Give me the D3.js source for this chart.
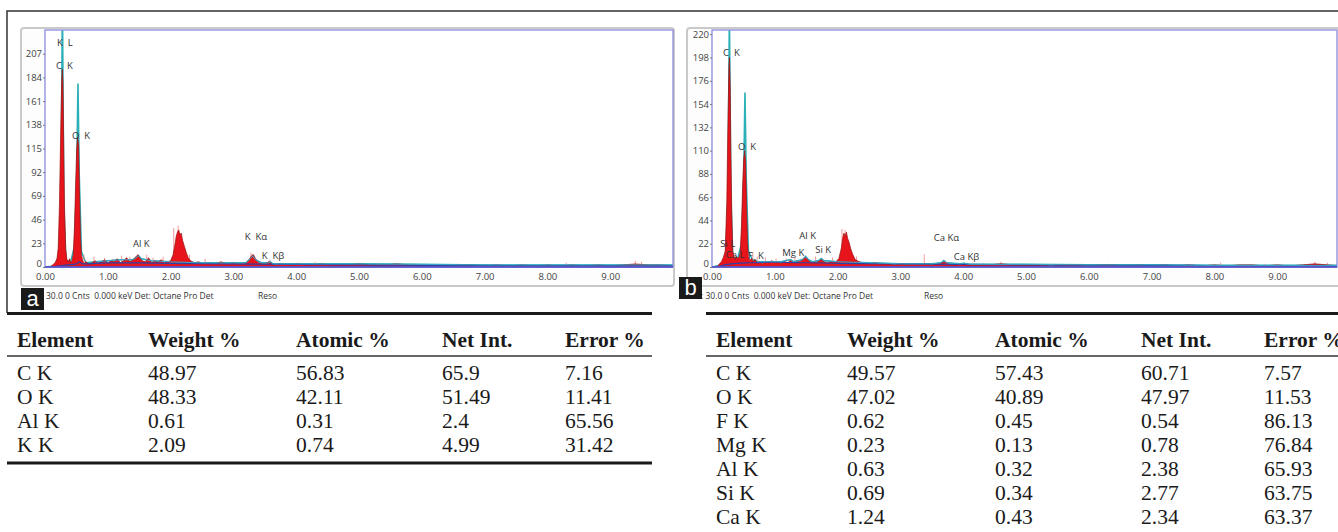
<!DOCTYPE html>
<html>
<head>
<meta charset="utf-8">
<script src="https://cdn.jsdelivr.net/npm/d3@7"></script>
<style>
  body { margin: 0; background: #fff; }
  svg { display: block; }
</style>
</head>
<body>
<div id="chart"></div>
<script>
// ---- data ----
const keVTicks = [0, 1, 2, 3, 4, 5, 6, 7, 8, 9];
const countTicksA = [0, 23, 46, 69, 92, 115, 138, 161, 184, 207];
const countTicksB = [0, 22, 44, 66, 88, 110, 132, 154, 176, 198, 220];

// measured spectrum (keV, counts)
const spectrumA = [[0,0],[0.08,0],[0.12,2],[0.16,4],[0.19,8],[0.21,18],[0.23,60],[0.25,130],[0.265,178],[0.275,192],[0.285,180],[0.30,110],[0.31,60],[0.33,18],[0.35,7],[0.37,5],[0.39,8],[0.41,4],[0.43,6],[0.45,12],[0.47,40],[0.49,85],[0.505,115],[0.52,126],[0.535,118],[0.55,70],[0.565,30],[0.58,12],[0.60,6],[0.62,3],[0.65,5],[0.70,3],[0.75,4],[0.80,6],[0.85,4],[0.90,5],[0.95,7],[1.00,4],[1.05,6],[1.10,5],[1.15,8],[1.20,4],[1.25,6],[1.30,9],[1.35,5],[1.40,7],[1.45,10],[1.48,12],[1.51,9],[1.55,6],[1.60,5],[1.65,9],[1.70,4],[1.75,6],[1.80,5],[1.85,7],[1.90,4],[1.95,5],[2.00,6],[2.04,12],[2.07,22],[2.09,30],[2.11,34],[2.13,36],[2.15,31],[2.17,33],[2.19,26],[2.22,20],[2.25,14],[2.28,9],[2.32,6],[2.38,4],[2.45,5],[2.50,3],[2.60,4],[2.70,3],[2.80,5],[2.90,3],[3.00,4],[3.10,3],[3.20,4],[3.25,7],[3.29,11],[3.32,12],[3.35,8],[3.40,4],[3.50,3],[3.56,5],[3.60,4],[3.65,2],[3.75,3],[3.90,2],[4.00,3],[4.2,2],[4.4,3],[4.6,2],[4.8,2],[5.0,3],[5.2,2],[5.4,2],[5.6,3],[5.8,2],[6.0,2],[6.2,2],[6.4,1],[6.6,2],[6.8,2],[7.0,1],[7.2,2],[7.4,1],[7.6,2],[7.8,1],[8.0,2],[8.2,1],[8.4,2],[8.6,1],[8.8,2],[9.0,1],[9.2,2],[9.4,3],[9.6,2],[9.8,2],[10,1]];
const spectrumB = [[0,0],[0.08,0],[0.12,3],[0.15,5],[0.18,9],[0.21,15],[0.235,60],[0.255,140],[0.27,190],[0.278,198],[0.29,170],[0.30,110],[0.315,50],[0.33,15],[0.35,10],[0.37,7],[0.39,10],[0.41,8],[0.43,9],[0.45,14],[0.47,40],[0.49,80],[0.505,102],[0.52,110],[0.535,100],[0.55,60],[0.565,25],[0.58,10],[0.60,6],[0.63,8],[0.66,5],[0.68,7],[0.72,4],[0.76,5],[0.80,3],[0.85,5],[0.90,4],[0.95,6],[1.00,4],[1.05,5],[1.10,3],[1.15,5],[1.20,4],[1.25,6],[1.30,4],[1.35,5],[1.40,5],[1.45,8],[1.49,9],[1.53,7],[1.58,4],[1.62,5],[1.66,4],[1.70,6],[1.74,7],[1.78,5],[1.84,4],[1.90,5],[1.96,4],[2.02,8],[2.06,18],[2.08,27],[2.10,32],[2.12,29],[2.14,33],[2.16,27],[2.18,24],[2.21,17],[2.24,12],[2.28,7],[2.34,5],[2.40,4],[2.50,3],[2.60,4],[2.70,3],[2.80,3],[2.90,2],[3.00,3],[3.10,2],[3.20,3],[3.30,2],[3.40,3],[3.50,2],[3.60,3],[3.66,4],[3.70,5],[3.74,4],[3.80,2],[3.90,2],[4.00,3],[4.05,2],[4.2,2],[4.4,2],[4.6,3],[4.8,2],[5.0,2],[5.2,2],[5.4,1],[5.6,2],[5.8,2],[6.0,1],[6.2,2],[6.4,2],[6.6,1],[6.8,2],[7.0,1],[7.2,2],[7.4,1],[7.6,2],[7.8,1],[8.0,2],[8.2,1],[8.4,2],[8.6,2],[8.8,1],[9.0,2],[9.2,1],[9.4,2],[9.6,3],[9.8,2],[10,1]];

// single-channel noise spikes (keV, counts)
const spikesA = [[0.62,12],[0.78,10],[0.95,9],[1.08,8],[1.22,11],[1.35,10],[1.62,12],[1.72,9],[1.88,10],[2.05,38],[2.12,40],[2.30,12],[2.55,8],[3.28,14],[3.58,7],[4.3,5],[5.3,4],[8.3,4],[9.4,6],[9.5,5]];
const spikesB = [[0.65,14],[0.72,10],[0.85,9],[1.02,8],[1.18,8],[1.32,9],[1.65,10],[1.92,9],[2.07,36],[2.12,35],[2.30,10],[3.38,12],[3.72,6],[4.6,5],[6.3,3],[8.1,4],[8.8,3],[9.6,5],[9.8,4]];

// peak fit (cyan) and background (blue)
const fitA = [[0,0],[0.15,1],[0.22,10],[0.255,60],[0.277,260],[0.30,60],[0.33,8],[0.40,3],[0.47,20],[0.505,90],[0.525,178],[0.545,90],[0.58,15],[0.65,4],[0.8,5],[1.0,6],[1.2,7],[1.4,7],[1.45,9],[1.49,11],[1.53,8],[1.7,6],[2.0,5],[2.5,4],[3.0,4],[3.2,4],[3.27,8],[3.31,11],[3.35,7],[3.45,4],[3.55,4],[3.59,5],[3.63,3],[4.0,3],[5,3],[6,2.5],[7,2],[8,2],[9,2],[10,2]];
const fitB = [[0,0],[0.15,2],[0.22,12],[0.255,70],[0.277,240],[0.30,70],[0.33,10],[0.40,6],[0.47,22],[0.505,85],[0.525,165],[0.545,85],[0.58,15],[0.65,6],[0.68,7],[0.72,5],[0.9,5],[1.1,5],[1.25,7],[1.3,5],[1.45,7],[1.49,10],[1.53,7],[1.6,5],[1.70,6],[1.74,8],[1.78,6],[2.0,5],[2.5,4],[3.0,3],[3.5,3],[3.65,4],[3.69,6],[3.73,4],[3.95,3],[4.01,3.5],[4.1,2.5],[5,2.5],[6,2],[7,2],[8,1.5],[9,1.5],[10,1.5]];
const bgA = [[0.1,0],[0.2,1],[0.35,2],[0.5,3],[0.55,5],[0.6,3],[1.0,4],[1.5,4],[2.0,3.5],[3,3],[4,2.5],[5,2],[7,1.5],[10,1]];
const bgB = [[0.1,0],[0.2,2],[0.3,3],[0.6,4],[1.0,4.5],[1.5,4],[2.0,3.5],[3,3],[4,2.5],[5,2],[7,1.5],[10,1]];

// peak labels (text, keV, counts)
const labelsA = [["K  L",0.19,214],["C  K",0.175,192],["O  K",0.43,124],["Al K",1.40,19],["K  Kα",3.18,26],["K  Kβ",3.45,8]];
const labelsB = [["C  K",0.176,199],["O  K",0.415,111],["Si L",0.13,19],["Ca L",0.22,8.5],["F  K",0.575,7.5],["Mg K",1.12,10],["Al K",1.39,26],["Si K",1.645,13],["Ca Kα",3.53,24.5],["Ca Kβ",3.85,6.6]];

// tables
const columns = ["Element", "Weight %", "Atomic %", "Net Int.", "Error %"];
const rowsA = [
  ["C K", "48.97", "56.83", "65.9", "7.16"],
  ["O K", "48.33", "42.11", "51.49", "11.41"],
  ["Al K", "0.61", "0.31", "2.4", "65.56"],
  ["K K", "2.09", "0.74", "4.99", "31.42"]
];
const rowsB = [
  ["C K", "49.57", "57.43", "60.71", "7.57"],
  ["O K", "47.02", "40.89", "47.97", "11.53"],
  ["F K", "0.62", "0.45", "0.54", "86.13"],
  ["Mg K", "0.23", "0.13", "0.78", "76.84"],
  ["Al K", "0.63", "0.32", "2.38", "65.93"],
  ["Si K", "0.69", "0.34", "2.77", "63.75"],
  ["Ca K", "1.24", "0.43", "2.34", "63.37"]
];

const W = 1338, H = 532;
const svg = d3.select('#chart').append('svg')
  .attr('width', W)
  .attr('height', H);

const uiFont = '"Open Sans", "Noto Sans", sans-serif';
const tableFont = '"Liberation Serif", "DejaVu Serif", serif';

// outer figure border (top + left)
svg.append('path')
  .attr('d', `M7,313 V11 H${W}`)
  .attr('fill', 'none')
  .attr('stroke', '#333')
  .attr('stroke-width', 1.5);

function drawPanel(opts) {
  const { id, frame, plot, yMax, yTicks, spectrum, spikes, fit, bg, labels, letter, status } = opts;

  // grey window frame
  svg.append('rect')
    .attr('x', frame.x).attr('y', frame.y)
    .attr('width', frame.w).attr('height', frame.h)
    .attr('rx', 3)
    .attr('fill', '#fdfdfd')
    .attr('stroke', '#c9c9c9')
    .attr('stroke-width', 2);

  const x = d3.scaleLinear().domain([0, 10]).range([plot.x0, plot.x1]);
  const y = d3.scaleLinear().domain([0, yMax]).range([plot.y1, plot.y0]);

  svg.append('rect')
    .attr('x', plot.x0).attr('y', plot.y0)
    .attr('width', plot.right - plot.x0).attr('height', plot.y1 - plot.y0)
    .attr('fill', '#fff');

  svg.append('clipPath').attr('id', `clip-${id}`)
    .append('rect')
    .attr('x', plot.x0).attr('y', plot.y0)
    .attr('width', plot.right - plot.x0).attr('height', plot.y1 - plot.y0);

  const g = svg.append('g').attr('clip-path', `url(#clip-${id})`);

  // fit line (cyan), under the spectrum
  g.append('path')
    .datum(fit)
    .attr('d', d3.line().x(d => x(d[0])).y(d => y(d[1])))
    .attr('fill', 'none')
    .attr('stroke', '#2bb0b8')
    .attr('stroke-width', 1.6);

  // light noise spikes
  g.selectAll('.spike').data(spikes).join('line')
    .attr('x1', d => x(d[0])).attr('x2', d => x(d[0]))
    .attr('y1', y(0)).attr('y2', d => y(d[1]))
    .attr('stroke', '#f08080')
    .attr('stroke-width', 0.8);

  // spectrum area
  g.append('path')
    .datum(spectrum)
    .attr('d', d3.area().x(d => x(d[0])).y0(y(0)).y1(d => y(d[1])))
    .attr('fill', '#e8141b');
  g.append('path')
    .datum(spectrum)
    .attr('d', d3.line().x(d => x(d[0])).y(d => y(d[1])))
    .attr('fill', 'none')
    .attr('stroke', '#9a1010')
    .attr('stroke-width', 0.7);

  // background line
  g.append('path')
    .datum(bg)
    .attr('d', d3.line().curve(d3.curveMonotoneX).x(d => x(d[0])).y(d => y(d[1])))
    .attr('fill', 'none')
    .attr('stroke', '#2f3fa8')
    .attr('stroke-width', 1.2);
  g.append('path')
    .datum(fit.filter(d => d[0] > 0.7))
    .attr('d', d3.line().x(d => x(d[0])).y(d => y(d[1])))
    .attr('fill', 'none')
    .attr('stroke', '#3aa6c8')
    .attr('stroke-width', 1);

  // plot frame (light blue) + baseline
  svg.append('rect')
    .attr('x', plot.x0).attr('y', plot.y0)
    .attr('width', plot.right - plot.x0).attr('height', plot.y1 - plot.y0)
    .attr('fill', 'none')
    .attr('stroke', '#8c8cdc')
    .attr('stroke-width', 1.3);
  svg.append('line')
    .attr('x1', plot.x0).attr('x2', plot.right)
    .attr('y1', plot.y1).attr('y2', plot.y1)
    .attr('stroke', '#4a4ac8')
    .attr('stroke-width', 1.6);

  // axes
  const yAxis = d3.axisLeft(y).tickValues(yTicks).tickSize(2).tickPadding(1).tickFormat(d3.format('d'));
  svg.append('g')
    .attr('transform', `translate(${plot.x0},0)`)
    .call(yAxis)
    .call(a => a.select('.domain').remove())
    .call(a => a.selectAll('text').attr('font-family', uiFont).attr('font-size', 9.5).attr('fill', '#444'))
    .call(a => a.selectAll('.tick').filter(d => d === 0).select('text').attr('dy', '-0.05em'))
    .call(a => a.selectAll('line').attr('stroke', '#777'));

  const xAxis = d3.axisBottom(x).tickValues(keVTicks).tickSize(0).tickPadding(6).tickFormat(d3.format('.2f'));
  svg.append('g')
    .attr('transform', `translate(0,${plot.y1})`)
    .call(xAxis)
    .call(a => a.select('.domain').remove())
    .call(a => a.selectAll('text').attr('font-family', uiFont).attr('font-size', 9.5).attr('fill', '#444'));

  // peak labels
  svg.append('g').selectAll('text').data(labels).join('text')
    .attr('x', d => x(d[1]))
    .attr('y', d => y(d[2]))
    .attr('font-family', uiFont)
    .attr('font-size', 9.5)
    .attr('fill', '#333')
    .style('white-space', 'pre')
    .text(d => d[0]);

  // status line
  svg.append('text')
    .attr('x', status.x).attr('y', 299)
    .attr('font-family', uiFont).attr('font-size', 8.5).attr('fill', '#333')
    .style('white-space', 'pre')
    .text(status.text);
  svg.append('text')
    .attr('x', status.resoX).attr('y', 299)
    .attr('font-family', uiFont).attr('font-size', 8.5).attr('fill', '#333')
    .text('Reso');

  // panel letter
  svg.append('rect')
    .attr('x', letter.x).attr('y', letter.y)
    .attr('width', 23).attr('height', 22)
    .attr('fill', '#1a1a1a');
  svg.append('text')
    .attr('x', letter.x + 11.5).attr('y', letter.y + 18)
    .attr('text-anchor', 'middle')
    .attr('font-family', '"Liberation Sans", Arial, sans-serif')
    .attr('font-size', 22)
    .attr('fill', '#fff')
    .text(letter.text);
}

drawPanel({
  id: 'a',
  frame: { x: 21, y: 28, w: 653, h: 258 },
  plot: { x0: 45, x1: 673, right: 673, y0: 30, y1: 267 },
  yMax: 230, yTicks: countTicksA,
  spectrum: spectrumA, spikes: spikesA, fit: fitA, bg: bgA, labels: labelsA,
  letter: { x: 21, y: 288, text: 'a' },
  status: { x: 46, resoX: 258, text: '30.0 0 Cnts  0.000 keV Det: Octane Pro Det' }
});

drawPanel({
  id: 'b',
  frame: { x: 687, y: 28, w: 670, h: 258 },
  plot: { x0: 712, x1: 1340, right: 1337, y0: 30, y1: 267 },
  yMax: 224, yTicks: countTicksB,
  spectrum: spectrumB, spikes: spikesB, fit: fitB, bg: bgB, labels: labelsB,
  letter: { x: 679, y: 277, text: 'b' },
  status: { x: 697, resoX: 924, text: 'c: 30.0 0 Cnts  0.000 keV Det: Octane Pro Det' }
});

// tables
const colOffsets = [0, 131, 279, 425, 548];

function drawTable(x0, x1, rows, bottomLine) {
  const t = svg.append('g');
  t.append('line')
    .attr('x1', x0).attr('x2', x1).attr('y1', 313.5).attr('y2', 313.5)
    .attr('stroke', '#1a1a1a').attr('stroke-width', 3);
  t.append('line')
    .attr('x1', x0).attr('x2', x1).attr('y1', 356).attr('y2', 356)
    .attr('stroke', '#333').attr('stroke-width', 1.5);
  if (bottomLine) {
    t.append('line')
      .attr('x1', x0).attr('x2', x1).attr('y1', 463).attr('y2', 463)
      .attr('stroke', '#1a1a1a').attr('stroke-width', 3);
  }
  const tx = x0 + 10;
  t.selectAll('.hd').data(columns).join('text')
    .attr('x', (d, i) => tx + colOffsets[i])
    .attr('y', 347)
    .attr('font-family', tableFont)
    .attr('font-weight', 'bold')
    .attr('font-size', 21.5)
    .attr('fill', '#1a1a1a')
    .text(d => d);
  rows.forEach((row, r) => {
    t.append('g').selectAll('text').data(row).join('text')
      .attr('x', (d, i) => tx + colOffsets[i])
      .attr('y', 380 + r * 24)
      .attr('font-family', tableFont)
      .attr('font-size', 21.5)
      .attr('fill', '#1a1a1a')
      .text(d => d);
  });
}

drawTable(7, 652, rowsA, true);
drawTable(706, W, rowsB, false);
</script>
</body>
</html>
